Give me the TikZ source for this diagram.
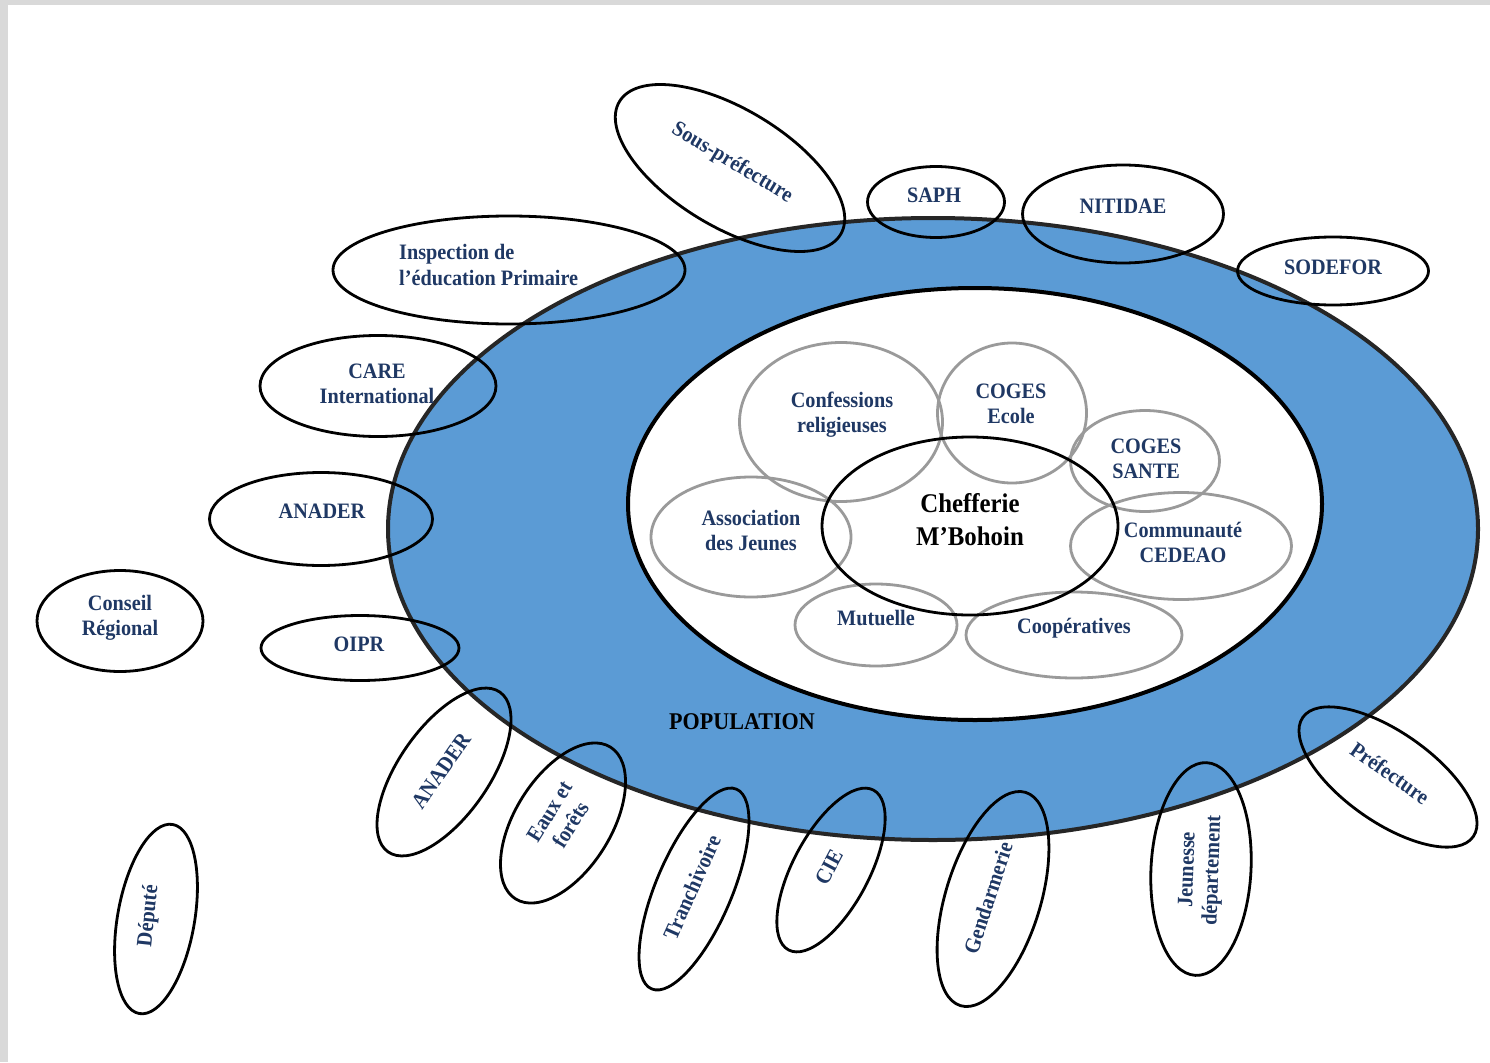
\documentclass[tikz,border=0pt]{standalone}
\usepackage{fontspec}
\setmainfont{Liberation Serif}[FakeStretch=0.92]
\usetikzlibrary{shapes.geometric}
\definecolor{ringblue}{HTML}{5B9BD5}
\definecolor{navy}{HTML}{1F3864}
\definecolor{ringgray}{HTML}{9A9A9A}
\definecolor{framegray}{HTML}{D9D9D9}
\begin{document}
\begin{tikzpicture}[x=1pt,y=-1pt,
  org/.style={draw=black, line width=2.8pt, ellipse, inner sep=0pt},
  sub/.style={draw=ringgray, line width=2.8pt, ellipse, inner sep=0pt},
  lbl/.style={text=navy, font=\bfseries\fontsize{22}{25}\selectfont, align=center, inner sep=0pt},
  big/.style={text=black, font=\bfseries\fontsize{27}{33}\selectfont, align=center, inner sep=0pt},
]
\fill[framegray] (0,0) rectangle (1490,1062);
\fill[white] (8,5) rectangle (1490,1062);
\useasboundingbox (0,0) rectangle (1490,1062);

% rings
\node[ellipse, draw=black!85, line width=4pt, fill=ringblue, minimum width=1090pt, minimum height=622pt] (pop) at (933,529) {};
\node[ellipse, draw=black, line width=4pt, fill=white, minimum width=694pt, minimum height=432pt] (core) at (975,504) {};

% inner grey circles
\node[sub, minimum width=203pt, minimum height=159pt] (conf) at (841,422) {};
\node[sub, minimum width=149pt, minimum height=140pt] (cogesE) at (1012,413) {};
\node[sub, minimum width=149pt, minimum height=101pt] (cogesS) at (1145,461) {};
\node[sub, minimum width=221pt, minimum height=107pt] (cedeao) at (1181,546) {};
\node[sub, minimum width=216pt, minimum height=86pt] (coop) at (1074,635) {};
\node[sub, minimum width=162pt, minimum height=82pt] (mut) at (876,625) {};
\node[sub, minimum width=200pt, minimum height=120pt] (assoc) at (751,537) {};
\node[org, minimum width=296pt, minimum height=178pt] (chef) at (970,526) {};

% outer ellipses
\node[org, minimum width=258pt, minimum height=118pt, rotate=-31] (spref) at (730,168) {};
\node[org, minimum width=137pt, minimum height=71pt] (saph) at (936,202) {};
\node[org, minimum width=201pt, minimum height=98pt] (nit) at (1123,214) {};
\node[org, minimum width=191pt, minimum height=68pt] (sod) at (1333,271) {};
\node[org, minimum width=352pt, minimum height=108pt] (iep) at (509,270) {};
\node[org, minimum width=236pt, minimum height=101pt] (care) at (378,386) {};
\node[org, minimum width=223pt, minimum height=93pt] (anaderL) at (321,519) {};
\node[org, minimum width=166pt, minimum height=101pt] (cr) at (120,621) {};
\node[org, minimum width=198pt, minimum height=65pt] (oipr) at (360,648) {};
\node[org, minimum width=195pt, minimum height=90pt, rotate=55] (anaderB) at (444,772) {};
\node[org, minimum width=179pt, minimum height=96pt, rotate=58] (eaux) at (563,823) {};
\node[org, minimum width=217pt, minimum height=76pt, rotate=67] (tranch) at (694,889) {};
\node[org, minimum width=181pt, minimum height=76pt, rotate=62] (cie) at (831,870) {};
\node[org, minimum width=223pt, minimum height=95pt, rotate=73] (gend) at (993,899) {};
\node[org, minimum width=213pt, minimum height=100pt, rotate=87] (jeun) at (1201,869) {};
\node[org, minimum width=208pt, minimum height=90pt, rotate=-35] (pref) at (1388,777) {};
\node[org, minimum width=192pt, minimum height=77pt, rotate=80] (dep) at (156,919) {};

% labels
\node[lbl, rotate=-31] (tspref) at (732,163) {Sous-préfecture};
\node[lbl] (tsaph) at (934,195) {SAPH};
\node[lbl] (tnit) at (1123,206) {NITIDAE};
\node[lbl] (tsod) at (1333,267) {SODEFOR};
\node[lbl, align=left, anchor=west] (tiep) at (399,265) {Inspection de\\l’éducation Primaire};
\node[lbl] (tcare) at (377,384) {CARE\\International};
\node[lbl] (tanaderL) at (322,511) {ANADER};
\node[lbl] (tcr) at (120,618) {Conseil\\Régional};
\node[lbl] (toipr) at (359,644) {OIPR};
\node[lbl, rotate=55] (tanaderB) at (441,771) {ANADER};
\node[lbl, rotate=58] (teaux) at (560,818) {Eaux et\\forêts};
\node[lbl, rotate=66] (ttranch) at (692,887) {Tranchivoire};
\node[lbl, rotate=62] (tcie) at (829,867) {CIE};
\node[lbl, rotate=72] (tgend) at (988,898) {Gendarmerie};
\node[lbl, rotate=88] (tjeun) at (1201,870) {Jeunesse\\département};
\node[lbl, rotate=-35] (tpref) at (1390,773) {Préfecture};
\node[lbl, rotate=84] (tdep) at (149,916) {Député};

\node[lbl] (tconf) at (842,415) {Confessions\\religieuses};
\node[lbl] (tcogesE) at (1011,404) {COGES\\Ecole};
\node[lbl] (tcogesS) at (1146,459) {COGES\\SANTE};
\node[lbl] (tcedeao) at (1183,542) {Communauté\\CEDEAO};
\node[lbl] (tassoc) at (751,530) {Association\\des Jeunes};
\node[lbl] (tmut) at (876,618) {Mutuelle};
\node[lbl] (tcoop) at (1074,628) {Coopératives};
\node[big] (tchef) at (970,520) {Chefferie\\M’Bohoin};
\node[text=black, font=\bfseries\fontsize{24}{26}\selectfont, inner sep=0pt] (tpop) at (742,722) {POPULATION};
\end{tikzpicture}
\end{document}
